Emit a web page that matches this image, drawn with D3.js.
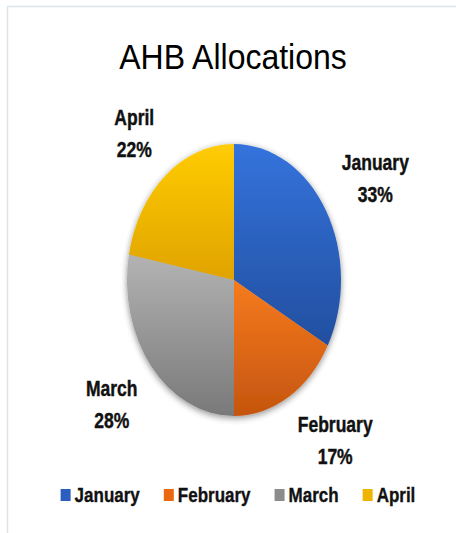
<!DOCTYPE html>
<html><head><meta charset="utf-8">
<script src="https://cdn.jsdelivr.net/npm/d3@7"></script>
<style>html,body{margin:0;padding:0;background:#fff;}svg{display:block;}</style>
</head><body>
<svg id="chart" width="456" height="533"></svg>
<script>
const title = "AHB Allocations";
const categories = ["January", "February", "March", "April"];
const values = [33, 17, 28, 22];
const colorsTop = ["#3473dc", "#f67b1e", "#b3b3b3", "#ffcc07"];
const colorsBottom = ["#224f9f", "#c5550f", "#797979", "#e0a300"];
const legendColors = ["#2a5fc0", "#e8690f", "#8c8c8c", "#efb400"];

const W = 456, H = 533;
const cx = 234, cy = 280, rx = 107, ry = 136;
const sy = ry / rx;
const FONT = "'Liberation Sans', Arial, sans-serif";

const svg = d3.select("#chart");
const defs = svg.append("defs");

// border lines
svg.append("line").attr("x1", 7).attr("x2", W).attr("y1", 6.5).attr("y2", 6.5)
  .attr("stroke", "#dde3ea").attr("stroke-width", 1.5);
svg.append("line").attr("x1", 7.5).attr("x2", 7.5).attr("y1", 6).attr("y2", H)
  .attr("stroke", "#dde3ea").attr("stroke-width", 1.5);

// gradients
categories.forEach((c, i) => {
  const g = defs.append("linearGradient").attr("id", "grad" + i)
    .attr("x1", 0).attr("y1", 0).attr("x2", 0).attr("y2", 1);
  g.append("stop").attr("offset", "0%").attr("stop-color", colorsTop[i]);
  g.append("stop").attr("offset", "100%").attr("stop-color", colorsBottom[i]);
});
const f = defs.append("filter").attr("id", "shadow")
  .attr("x", "-20%").attr("y", "-20%").attr("width", "140%").attr("height", "140%");
f.append("feGaussianBlur").attr("in", "SourceAlpha").attr("stdDeviation", 3);
f.append("feOffset").attr("dx", 0).attr("dy", 1.5).attr("result", "ob");
f.append("feComponentTransfer").append("feFuncA").attr("type", "linear").attr("slope", 0.45);
const fm = f.append("feMerge");
fm.append("feMergeNode");
fm.append("feMergeNode").attr("in", "SourceGraphic");

// title
svg.append("text").attr("transform", `translate(233,69) scale(1,1.07)`)
  .attr("text-anchor", "middle").attr("font-family", FONT).attr("font-size", 32)
  .attr("fill", "#000").text(title);

// pie
const total = d3.sum(values);
const pie = d3.pie().sort(null).value(d => d.v);
const arcs = pie(categories.map((c, i) => ({ c, v: values[i], i })));
const arc = d3.arc().innerRadius(0).outerRadius(rx);

const pg = svg.append("g").attr("transform", `translate(${cx},${cy}) scale(1,${sy})`)
  .attr("filter", "url(#shadow)");
pg.selectAll("path").data(arcs).join("path")
  .attr("d", arc)
  .attr("fill", d => `url(#grad${d.data.i})`)
  .attr("stroke", "none");

// data labels
const labelSize = 17.5, labelSy = 1.22, capH = 15, lineGap = 32, k = 1.17;
const clampSign = v => Math.max(-1, Math.min(1, v * 1.7));
const lg = svg.append("g");
arcs.forEach(d => {
  const mid = (d.startAngle + d.endAngle) / 2;
  const ax = cx + k * rx * Math.sin(mid);
  const ay = cy - k * ry * Math.cos(mid);
  const pct = d3.format(".0%")(d.data.v / total);
  const g = lg.append("g");
  const mk = txt => g.append("text").attr("font-family", FONT).attr("font-weight", "bold")
    .attr("font-size", labelSize).attr("text-anchor", "middle").attr("fill", "#111")
    .attr("stroke", "#111").attr("stroke-width", 0.35).text(txt);
  const t1 = mk(d.data.c), t2 = mk(pct);
  const w = Math.max(t1.node().getComputedTextLength(), t2.node().getComputedTextLength());
  const h = capH + lineGap;
  const s = Math.sin(mid), c = Math.cos(mid);
  const mx = ax + (s >= 0 ? 1 : -1) * w / 2;
  const my = ay - clampSign(c) * h / 2;
  const by = my - h / 2;
  t1.attr("transform", `translate(${mx},${by + capH}) scale(1,${labelSy})`);
  t2.attr("transform", `translate(${mx},${by + capH + lineGap}) scale(1,${labelSy})`);
});

// legend
const legSize = 17, legSy = 1.18, legBase = 502, sqW = 10, sqH = 12, sqGap = 4, itemGap = 24;
const leg = svg.append("g");
const items = categories.map((c, i) => {
  const g = leg.append("g");
  g.append("rect").attr("width", sqW).attr("height", sqH).attr("y", legBase - 13)
    .attr("fill", legendColors[i]);
  const t = g.append("text").attr("font-family", FONT).attr("font-weight", "bold")
    .attr("font-size", legSize).attr("fill", "#111").attr("stroke", "#111")
    .attr("stroke-width", 0.3).text(c);
  const w = t.node().getComputedTextLength();
  t.attr("transform", `translate(${sqW + sqGap},${legBase}) scale(1,${legSy})`);
  return { g, w: sqW + sqGap + w };
});
const totalW = d3.sum(items, d => d.w) + itemGap * (items.length - 1);
let x0 = 238 - totalW / 2;
items.forEach(it => { it.g.attr("transform", `translate(${x0},0)`); x0 += it.w + itemGap; });
</script>
</body></html>
